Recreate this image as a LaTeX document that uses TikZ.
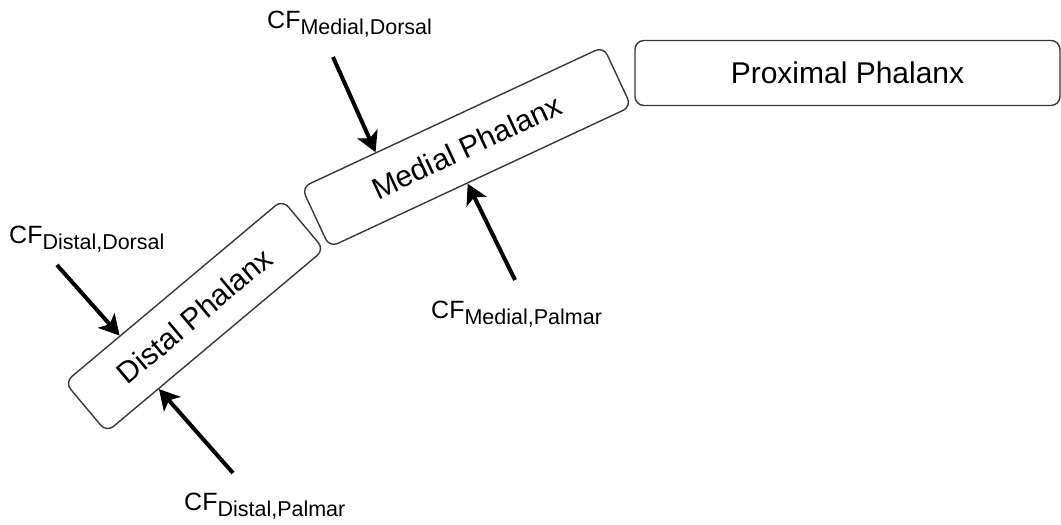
\documentclass[tikz,border=0pt]{standalone}
\usepackage{fontspec}
\setmainfont{Liberation Sans}
\usetikzlibrary{arrows.meta,calc}
% subscript part of a contact-force label
\newcommand\cfsub[1]{\lower6.5pt\hbox{\fontsize{21.5}{26}\selectfont #1}}
\begin{document}
\begin{tikzpicture}[x=1pt,y=-1pt,
  bone/.style={draw=black!78, line width=1.4pt, rounded corners=9pt,
    minimum height=65pt, inner sep=0pt, font=\fontsize{30}{35}\selectfont},
  force/.style={line width=4pt, -{Stealth[length=20pt,width=22pt,inset=5pt]}},
  cflabel/.style={anchor=base west, inner sep=0pt, font=\fontsize{25}{30}\selectfont}]
\useasboundingbox (0,0) rectangle (1061,525);

% the three phalanges
\node[bone, minimum width=425pt] (prox) at (847.5,73) {Proximal Phalanx};
\node[bone, minimum width=333pt, minimum height=66pt, rotate=25] (med) at (466.5,147) {Medial Phalanx};
\node[bone, minimum width=284pt, rotate=40] (dist) at (194.5,316) {Distal Phalanx};

% contact-force labels
\node[cflabel] (lmd) at (267,28) {CF\cfsub{Medial,Dorsal}};
\node[cflabel] (lmp) at (431,318) {CF\cfsub{Medial,Palmar}};
\node[cflabel] (ldd) at (9,243) {CF\cfsub{Distal,Dorsal}};
\node[cflabel] (ldp) at (184,510) {CF\cfsub{Distal,Palmar}};

% tails of the force arrows
\coordinate (tmd) at (333,57);
\coordinate (tmp) at (515,280);
\coordinate (tdd) at (57,265);
\coordinate (tdp) at (233,473);

% contact forces acting on the phalanges
\draw[force] (tmd) -- ($(med.north west)!0.247!(med.north east)$);
\draw[force] (tmp) -- ($(med.south west)!0.457!(med.south east)$);
\draw[force] (tdd) -- ($(dist.north west)!0.255!(dist.north east)$);
\draw[force] (tdp) -- ($(dist.south west)!0.24!(dist.south east)$);
\end{tikzpicture}
\end{document}
